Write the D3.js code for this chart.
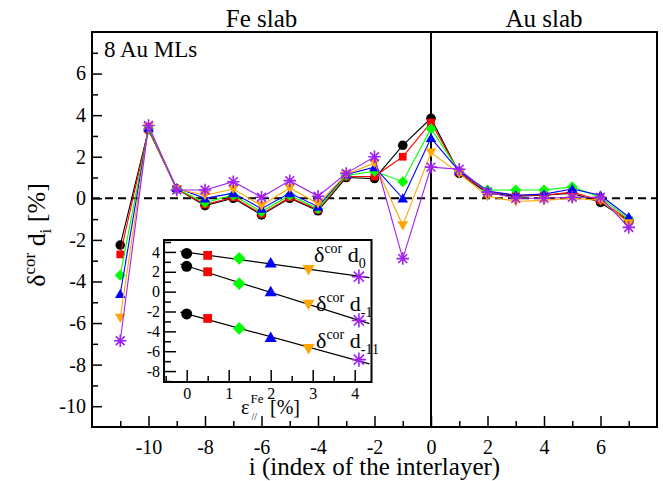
<!DOCTYPE html>
<html>
<head>
<meta charset="utf-8">
<script src="https://cdn.jsdelivr.net/npm/d3@7"></script>
<style>
body { margin: 0; background: #fff; }
text { font-family: "Liberation Serif", "Times New Roman", serif; fill: #000; }
</style>
</head>
<body>
<svg id="chart" width="663" height="481"></svg>
<script>

// interlayer index i
var layers = [-11, -10, -9, -8, -7, -6, -5, -4, -3, -2, -1, 0, 1, 2, 3, 4, 5, 6, 7];

// delta^cor d_i [%] for each in-plane Fe strain
var setBlack  = [-2.25, 3.3, 0.45, -0.35, 0.0, -0.8, 0.0, -0.6, 1.0, 0.95, 2.55, 3.85, 1.2, 0.25, 0.1, 0.15, 0.25, -0.2, -1.1];
var setRed    = [-2.7, 3.3, 0.45, -0.3, 0.05, -0.75, 0.05, -0.55, 1.05, 1.05, 2.0, 3.65, 1.25, 0.3, 0.15, 0.15, 0.3, -0.1, -1.05];
var setGreen  = [-3.7, 3.35, 0.45, -0.2, 0.15, -0.65, 0.15, -0.5, 1.1, 1.3, 0.8, 3.35, 1.3, 0.4, 0.4, 0.4, 0.55, 0.05, -1.0];
var setBlue   = [-4.6, 3.4, 0.5, 0.0, 0.25, -0.5, 0.25, -0.4, 1.15, 1.5, 0.0, 2.9, 1.3, 0.35, 0.15, 0.2, 0.45, 0.15, -0.9];
var setOrange = [-5.75, 3.45, 0.45, 0.15, 0.45, -0.35, 0.5, -0.25, 1.15, 1.7, -1.3, 2.2, 1.2, 0.1, -0.15, -0.1, 0.0, -0.1, -1.2];
var setPurple = [-6.85, 3.5, 0.4, 0.4, 0.8, 0.05, 0.85, 0.1, 1.2, 2.0, -2.9, 1.5, 1.4, 0.3, 0.0, 0.0, 0.05, 0.05, -1.4];

// epsilon_// ^Fe [%] of each set (inset x)
var strain = [0, 0.5, 1.25, 2.0, 2.9, 4.1];

var colors  = ["#000000", "#ff0000", "#00ff00", "#0000ff", "#ffa500", "#a020f0"];
var symbols = ["circle", "square", "diamond", "triangleUp", "triangleDown", "asterisk"];

var xTicks = [-10, -8, -6, -4, -2, 0, 2, 4, 6];
var yTicks = [-10, -8, -6, -4, -2, 0, 2, 4, 6];
var insetXTicks = [0, 1, 2, 3, 4];
var insetYTicks = [-8, -6, -4, -2, 0, 2, 4];

// inset rows: which layer, label subscript, fit range
var insetLayers = [0, -1, -11];
var insetSubs = ["0", "-1", "-11"];
var fitRange = [-0.15, 4.35];

var sets = [setBlack, setRed, setGreen, setBlue, setOrange, setPurple];

var svg = d3.select("#chart");

var L = 92, R = 657, T = 32, B = 427;

var x = d3.scaleLinear().domain([-12, 8]).range([L, R]);
var y = d3.scaleLinear().domain([-11, 8]).range([B, T]);

function markerPath(kind, s) {
	var h = s * 0.8;
	if (kind === "circle") return "M" + (-s) + ",0A" + s + "," + s + " 0 1,0 " + s + ",0A" + s + "," + s + " 0 1,0 " + (-s) + ",0Z";
	if (kind === "square") return "M" + (-h) + "," + (-h) + "H" + h + "V" + h + "H" + (-h) + "Z";
	if (kind === "diamond") return "M0," + (-s * 1.15) + "L" + (s * 1.15) + ",0L0," + (s * 1.15) + "L" + (-s * 1.15) + ",0Z";
	if (kind === "triangleUp") return "M0," + (-s * 1.05) + "L" + (s * 1.1) + "," + (s * 0.85) + "L" + (-s * 1.1) + "," + (s * 0.85) + "Z";
	if (kind === "triangleDown") return "M0," + (s * 1.05) + "L" + (s * 1.1) + "," + (-s * 0.85) + "L" + (-s * 1.1) + "," + (-s * 0.85) + "Z";
	var a = s * 1.3, d = a * 0.707;
	return "M" + (-a) + ",0H" + a + "M0," + (-a) + "V" + a +
		"M" + (-d) + "," + (-d) + "L" + d + "," + d + "M" + (-d) + "," + d + "L" + d + "," + (-d);
}

function drawMarker(g, kind, color, s) {
	if (kind === "asterisk") {
		g.attr("d", markerPath(kind, s)).attr("fill", "none").attr("stroke", color).attr("stroke-width", 1.6);
	} else {
		g.attr("d", markerPath(kind, s)).attr("fill", color).attr("stroke", "none");
	}
}

// ---- main plot reference lines
svg.append("line")
	.attr("x1", L).attr("x2", R).attr("y1", y(0)).attr("y2", y(0))
	.attr("stroke", "#000").attr("stroke-width", 2).attr("stroke-dasharray", "8,5");

svg.append("line")
	.attr("x1", x(0)).attr("x2", x(0)).attr("y1", T).attr("y2", B)
	.attr("stroke", "#000").attr("stroke-width", 2);

// ---- axes
function cleanAxis(g) {
	g.select(".domain").remove();
	g.selectAll(".tick line").attr("stroke", "#000").attr("stroke-width", 1.5);
	g.selectAll(".tick text").attr("fill", "#000");
}

var minorX = d3.range(-11, 8).filter(function (d) { return xTicks.indexOf(d) < 0; });
var minorY = d3.range(-10, 8).filter(function (d) { return yTicks.indexOf(d) < 0; });

svg.append("g")
	.attr("transform", "translate(0," + B + ")")
	.call(d3.axisBottom(x).tickValues(minorX).tickSize(-6).tickFormat(""))
	.call(cleanAxis);

svg.append("g")
	.attr("transform", "translate(0," + B + ")")
	.call(d3.axisBottom(x).tickValues(xTicks).tickSize(-11).tickPadding(13).tickFormat(function (d) { return String(d); }))
	.call(cleanAxis)
	.selectAll(".tick text").style("font-size", "20px");

svg.append("g")
	.attr("transform", "translate(" + L + ",0)")
	.call(d3.axisLeft(y).tickValues(minorY).tickSize(-6).tickFormat(""))
	.call(cleanAxis);

svg.append("g")
	.attr("transform", "translate(" + L + ",0)")
	.call(d3.axisLeft(y).tickValues(yTicks).tickSize(-10).tickPadding(6).tickFormat(function (d) { return String(d); }))
	.call(cleanAxis)
	.selectAll(".tick text").style("font-size", "20px");

// ---- series
var line = d3.line()
	.x(function (d, i) { return x(layers[i]); })
	.y(function (d) { return y(d); });

sets.forEach(function (vals, k) {
	svg.append("path")
		.attr("d", line(vals))
		.attr("fill", "none")
		.attr("stroke", colors[k])
		.attr("stroke-width", 1.1);
	svg.append("g").selectAll("path")
		.data(vals)
		.join("path")
		.attr("transform", function (d, i) { return "translate(" + x(layers[i]) + "," + y(d) + ")"; })
		.each(function () { drawMarker(d3.select(this), symbols[k], colors[k], 4.8); });
});

// frame
svg.append("rect")
	.attr("x", L).attr("y", T).attr("width", R - L).attr("height", B - T)
	.attr("fill", "none").attr("stroke", "#000").attr("stroke-width", 2);

// ---- texts
svg.append("text").attr("x", x(-6)).attr("y", 27).attr("text-anchor", "middle")
	.style("font-size", "25px").text("Fe slab");
svg.append("text").attr("x", x(4)).attr("y", 27).attr("text-anchor", "middle")
	.style("font-size", "25px").text("Au slab");
svg.append("text").attr("x", 104).attr("y", 57)
	.style("font-size", "23px").text("8 Au MLs");

svg.append("text").attr("x", (L + R) / 2).attr("y", 475).attr("text-anchor", "middle")
	.style("font-size", "25px").text("i (index of the interlayer)");

var yl = svg.append("text")
	.attr("transform", "translate(45,235) rotate(-90)")
	.attr("text-anchor", "middle")
	.style("font-size", "26px");
yl.append("tspan").text("δ");
yl.append("tspan").attr("dy", -10).style("font-size", "17px").text("cor");
yl.append("tspan").attr("dy", 10).text(" d");
yl.append("tspan").attr("dy", 6).style("font-size", "17px").text("i");
yl.append("tspan").attr("dy", -6).text(" [%]");

// ---- inset
var IL = 164, IR = 371.5, IT = 240, IB = 382;
var ix = d3.scaleLinear().domain([-0.54, 4.4]).range([IL, IR]);
var iy = d3.scaleLinear().domain([-9.1, 5.2]).range([IB, IT]);

var inset = svg.append("g");
inset.append("rect")
	.attr("x", IL).attr("y", IT).attr("width", IR - IL).attr("height", IB - IT)
	.attr("fill", "#fff");

inset.append("g")
	.attr("transform", "translate(0," + IB + ")")
	.call(d3.axisBottom(ix).tickValues([-0.5, 0.5, 1.5, 2.5, 3.5]).tickSize(-6).tickFormat(""))
	.call(cleanAxis);
inset.append("g")
	.attr("transform", "translate(0," + IB + ")")
	.call(d3.axisBottom(ix).tickValues(insetXTicks).tickSize(-12).tickPadding(6).tickFormat(function (d) { return String(d); }))
	.call(cleanAxis)
	.selectAll(".tick text").style("font-size", "16px");
inset.append("g")
	.attr("transform", "translate(" + IL + ",0)")
	.call(d3.axisLeft(iy).tickValues([-9, -7, -5, -3, -1, 1, 3, 5]).tickSize(-7).tickFormat(""))
	.call(cleanAxis);
inset.append("g")
	.attr("transform", "translate(" + IL + ",0)")
	.call(d3.axisLeft(iy).tickValues(insetYTicks).tickSize(-12).tickPadding(4).tickFormat(function (d) { return String(d); }))
	.call(cleanAxis)
	.selectAll(".tick text").style("font-size", "16px");

insetLayers.forEach(function (layer, r) {
	var col = layers.indexOf(layer);
	var pts = sets.map(function (vals, k) { return [strain[k], vals[col]]; });
	// least-squares fit through the six points
	var mx = d3.mean(pts, function (p) { return p[0]; });
	var my = d3.mean(pts, function (p) { return p[1]; });
	var sxy = d3.sum(pts, function (p) { return (p[0] - mx) * (p[1] - my); });
	var sxx = d3.sum(pts, function (p) { return (p[0] - mx) * (p[0] - mx); });
	var slope = sxy / sxx, icpt = my - slope * mx;
	inset.append("line")
		.attr("x1", ix(fitRange[0])).attr("y1", iy(icpt + slope * fitRange[0]))
		.attr("x2", ix(fitRange[1])).attr("y2", iy(icpt + slope * fitRange[1]))
		.attr("stroke", "#000").attr("stroke-width", 1.2);
	inset.append("g").selectAll("path")
		.data(pts)
		.join("path")
		.attr("transform", function (p) { return "translate(" + ix(p[0]) + "," + iy(p[1]) + ")"; })
		.each(function (p, k) { drawMarker(d3.select(this), symbols[k], colors[k], 5.5); });
});

var labelPos = [[314, 262], [316, 311], [316, 348]];
insetSubs.forEach(function (sub, r) {
	var t = inset.append("text")
		.attr("x", labelPos[r][0]).attr("y", labelPos[r][1])
		.style("font-size", "22px");
	t.append("tspan").text("δ");
	t.append("tspan").attr("dy", -9).style("font-size", "14px").text("cor");
	t.append("tspan").attr("dy", 9).text(" d");
	t.append("tspan").attr("dy", 6).style("font-size", "14px").text(sub);
});

inset.append("rect")
	.attr("x", IL).attr("y", IT).attr("width", IR - IL).attr("height", IB - IT)
	.attr("fill", "none").attr("stroke", "#000").attr("stroke-width", 2);

var xl = inset.append("text").attr("x", 241).attr("y", 414).style("font-size", "20px");
xl.append("tspan").text("ε");
xl.append("tspan").attr("dy", -11).attr("dx", 1).style("font-size", "13px").text("Fe");
xl.append("tspan").attr("dx", -12).attr("dy", 17).style("font-size", "10px").text("//");
xl.append("tspan").attr("dx", 13).attr("dy", -6).text("[%]");

</script>
</body>
</html>
